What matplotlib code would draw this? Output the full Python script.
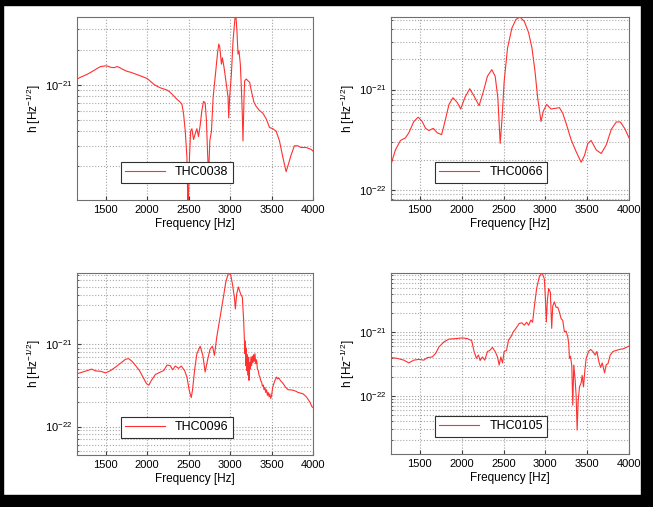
import matplotlib as mpl
mpl.use('Agg')
mpl.rcParams['axes.unicode_minus'] = False

import matplotlib.pyplot as plt
import numpy as np
from matplotlib.ticker import LogLocator, NullFormatter, FixedLocator, LogFormatterSciNotation
from matplotlib.patches import Rectangle

plt.rcParams['font.family'] = ['Liberation Sans', 'DejaVu Sans']
plt.rcParams['mathtext.fontset'] = 'custom'
plt.rcParams['mathtext.rm'] = 'Liberation Sans'
plt.rcParams['mathtext.it'] = 'Liberation Sans'

# strain spectra, h in units of 1e-21
f_0038 = [1155, 1200, 1280, 1340, 1400, 1440, 1500, 1530, 1560, 1600, 1640, 1670, 1700,
          1760, 1800, 1840, 1880, 1920, 1960, 2000, 2040, 2080, 2120, 2160, 2200, 2240,
          2270, 2300, 2330, 2360, 2390, 2420, 2440, 2460, 2480, 2492, 2500, 2512, 2525,
          2540, 2560, 2580, 2600, 2620, 2640, 2660, 2680, 2700, 2715, 2730, 2742, 2756,
          2776, 2796, 2824, 2848, 2864, 2876, 2896, 2908, 2928, 2956, 2976, 2984, 2996,
          3016, 3036, 3056, 3068, 3084, 3096, 3108, 3124, 3136, 3148, 3156, 3168, 3176,
          3196, 3216, 3236, 3256, 3288, 3316, 3356, 3396, 3436, 3476, 3516, 3556, 3596,
          3636, 3676, 3696, 3736, 3776, 3816, 3856, 3916, 3976, 4000]
h_0038 = [1.12, 1.16, 1.23, 1.30, 1.38, 1.43, 1.45, 1.44, 1.41, 1.40, 1.43, 1.40, 1.36,
          1.30, 1.28, 1.25, 1.22, 1.19, 1.16, 1.13, 1.07, 1.01, 0.97, 0.94, 0.92, 0.90,
          0.87, 0.83, 0.79, 0.75, 0.72, 0.68, 0.56, 0.40, 0.24, 0.09, 0.12, 0.25, 0.40,
          0.42, 0.34, 0.38, 0.42, 0.36, 0.45, 0.60, 0.72, 0.70, 0.50, 0.25, 0.17, 0.33,
          0.40, 0.78, 1.23, 1.83, 2.23, 2.10, 1.50, 1.70, 1.40, 1.00, 0.78, 0.52, 0.80,
          1.23, 2.38, 3.50, 4.20, 2.80, 1.83, 1.95, 1.50, 0.95, 0.55, 0.33, 0.75, 1.08,
          1.12, 1.08, 1.05, 0.89, 0.71, 0.65, 0.60, 0.57, 0.51, 0.43, 0.42, 0.40, 0.33,
          0.24, 0.18, 0.20, 0.25, 0.30, 0.30, 0.29, 0.29, 0.28, 0.27]

f_0066 = [1160, 1208, 1268, 1328, 1368, 1428, 1480, 1528, 1568, 1608, 1660, 1708, 1760,
          1800, 1848, 1896, 1948, 1988, 2040, 2096, 2148, 2208, 2260, 2308, 2360, 2400,
          2432, 2460, 2480, 2508, 2548, 2600, 2648, 2696, 2748, 2800, 2840, 2876, 2908,
          2948, 2976, 3016, 3068, 3120, 3168, 3208, 3248, 3308, 3368, 3428, 3468, 3508,
          3548, 3608, 3668, 3728, 3788, 3848, 3896, 3948, 4000]
h_0066 = [0.185, 0.25, 0.31, 0.33, 0.37, 0.48, 0.53, 0.48, 0.41, 0.39, 0.41, 0.37, 0.355,
          0.48, 0.71, 0.83, 0.74, 0.64, 0.84, 1.02, 0.86, 0.69, 0.96, 1.36, 1.58, 1.36,
          0.83, 0.29, 0.48, 1.21, 2.6, 4.1, 5.0, 5.3, 4.8, 3.7, 2.6, 1.53, 0.83,
          0.48, 0.61, 0.71, 0.64, 0.65, 0.66, 0.58, 0.46, 0.316, 0.24, 0.188, 0.22, 0.29,
          0.31, 0.25, 0.23, 0.28, 0.40, 0.475, 0.475, 0.41, 0.33]

f_0096 = [1160, 1220, 1280, 1332, 1380, 1440, 1500, 1560, 1620, 1680, 1740, 1780, 1820,
          1860, 1908, 1960, 1992, 2020, 2052, 2100, 2160, 2200, 2240, 2280, 2308, 2340,
          2380, 2412, 2452, 2480, 2508, 2532, 2548, 2572, 2600, 2640, 2672, 2700, 2728,
          2760, 2788, 2812, 2840, 2880, 2920, 2948, 2980, 3008, 3028, 3052, 3064, 3080,
          3100, 3128, 3148, 3164, 3172, 3180, 3185, 3190, 3196, 3200, 3206, 3212, 3218,
          3224, 3228, 3236, 3244, 3252, 3260, 3268, 3276, 3284, 3292, 3300, 3310, 3320,
          3330, 3340, 3350, 3360, 3370, 3380, 3390, 3400, 3410, 3420, 3430, 3440, 3450,
          3460, 3470, 3480, 3490, 3500, 3514, 3528, 3544, 3560, 3574, 3588, 3610, 3640,
          3670, 3700, 3730, 3760, 3790, 3820, 3850, 3880, 3920, 3960, 3988, 4000]
h_0096 = [0.44, 0.46, 0.48, 0.50, 0.475, 0.47, 0.45, 0.48, 0.53, 0.59, 0.66, 0.67, 0.62,
          0.555, 0.48, 0.383, 0.333, 0.318, 0.365, 0.43, 0.46, 0.48, 0.56, 0.55, 0.49, 0.545,
          0.51, 0.545, 0.48, 0.40, 0.276, 0.225, 0.28, 0.48, 0.77, 0.95, 0.735, 0.46, 0.64,
          0.88, 0.95, 0.735, 1.23, 2.15, 3.76, 5.7, 7.4, 7.0, 5.5, 3.76, 2.7, 4.1,
          5.0, 4.1, 3.76, 1.96, 1.2, 0.77, 1.1, 0.55, 0.9, 0.48, 0.75, 0.6, 0.42,
          0.7, 0.365, 0.6, 0.5, 0.70, 0.55, 0.72, 0.6, 0.75, 0.62, 0.77, 0.58, 0.65,
          0.5, 0.48, 0.42, 0.40, 0.36, 0.35, 0.31, 0.32, 0.28, 0.30, 0.26, 0.28, 0.24,
          0.26, 0.23, 0.25, 0.22, 0.235, 0.30, 0.333, 0.37, 0.40, 0.38, 0.39, 0.36, 0.333,
          0.30, 0.28, 0.28, 0.276, 0.27, 0.26, 0.255, 0.25, 0.23, 0.20, 0.174, 0.17]

f_0105 = [1160, 1228, 1308, 1368, 1428, 1488, 1548, 1588, 1648, 1688, 1728, 1788, 1848,
          1928, 2008, 2068, 2120, 2148, 2176, 2200, 2220, 2248, 2276, 2308, 2336, 2368,
          2400, 2428, 2448, 2468, 2488, 2508, 2536, 2560, 2588, 2616, 2648, 2688, 2720,
          2748, 2776, 2800, 2828, 2848, 2868, 2896, 2928, 2960, 2988, 3000, 3012, 3024,
          3040, 3060, 3076, 3088, 3108, 3128, 3148, 3168, 3188, 3208, 3228, 3248, 3268,
          3280, 3288, 3300, 3316, 3328, 3340, 3356, 3368, 3380, 3392, 3408, 3428, 3440,
          3456, 3472, 3488, 3516, 3540, 3568, 3596, 3616, 3640, 3660, 3680, 3708, 3728,
          3748, 3776, 3808, 3848, 3888, 3928, 3968, 4000]
h_0105 = [0.40, 0.39, 0.365, 0.33, 0.365, 0.375, 0.365, 0.40, 0.41, 0.466, 0.59, 0.71, 0.785,
          0.80, 0.82, 0.80, 0.74, 0.50, 0.39, 0.44, 0.36, 0.41, 0.365, 0.50, 0.52, 0.58,
          0.50, 0.41, 0.305, 0.41, 0.33, 0.50, 0.52, 0.76, 0.85, 1.02, 1.16, 1.39, 1.42,
          1.30, 1.45, 1.30, 1.57, 1.45, 2.54, 4.96, 7.6, 8.8, 7.0, 3.6, 1.47, 3.2,
          4.96, 4.3, 1.16, 2.6, 3.05, 2.5, 2.5, 2.1, 1.66, 1.55, 1.02, 1.05, 0.85,
          0.65, 0.39, 0.42, 0.30, 0.071, 0.305, 0.18, 0.10, 0.0287, 0.08, 0.138, 0.16, 0.21,
          0.138, 0.25, 0.39, 0.50, 0.54, 0.50, 0.44, 0.50, 0.345, 0.28, 0.33, 0.23, 0.31,
          0.32, 0.44, 0.50, 0.52, 0.54, 0.55, 0.58, 0.61]

names = ['THC0038', 'THC0066', 'THC0096', 'THC0105']
ylims = [(1.03e-22, 3.8e-21), (7.9e-23, 5.3e-21), (4.5e-23, 7.4e-21), (1.2e-23, 8.7e-21)]
xticks = [1500, 2000, 2500, 3000, 3500, 4000]

W, H = 653, 507
fig = plt.figure(figsize=(W / 100, H / 100), dpi=100)
fig.patch.set_facecolor('white')

# pixel boxes of the four axes: left, top, right, bottom
boxes = [(77, 17, 313, 200), (391, 17, 629, 200), (77, 273, 313, 455), (391, 273, 629, 454)]
data = [(f_0038, h_0038), (f_0066, h_0066), (f_0096, h_0096), (f_0105, h_0105)]

for (l, t, r, b), (f, h), name, yl in zip(boxes, data, names, ylims):
    ax = fig.add_axes([l / W, 1 - b / H, (r - l) / W, (b - t) / H])
    ax.plot(f, np.array(h) * 1e-21, color='#ff3030', lw=0.8, label=name)
    ax.set_yscale('log')
    ax.set_xlim(1155, 4000)
    ax.set_ylim(*yl)
    ax.xaxis.set_major_locator(FixedLocator(xticks))
    decades = [10.0 ** e for e in range(-24, -19) if yl[0] <= 10.0 ** e <= yl[1]]
    ax.yaxis.set_major_locator(FixedLocator(decades))
    ax.yaxis.set_major_formatter(LogFormatterSciNotation())
    ax.yaxis.set_minor_locator(LogLocator(base=10, subs=np.arange(2, 10)))
    ax.yaxis.set_minor_formatter(NullFormatter())
    ax.grid(True, which='major', ls=':', color='#a0a0a0', lw=0.8)
    ax.grid(True, which='minor', axis='y', ls=':', color='#a8a8a8', lw=0.8)
    ax.tick_params(direction='in', labelsize=8, length=3, color='#404040')
    ax.tick_params(which='minor', direction='in', length=1.5, color='#404040')
    for s in ax.spines.values():
        s.set_color('#707070')
        s.set_linewidth(0.8)
    ax.set_xlabel('Frequency [Hz]', fontsize=8.5, labelpad=2)
    ax.set_ylabel('h [Hz$^{-1/2}$]', fontsize=8.5, labelpad=1)
    leg = ax.legend(loc='lower left', bbox_to_anchor=(0.185, 0.095), borderaxespad=0,
                    fancybox=False, edgecolor='#303030', fontsize=9, handlelength=3.2,
                    borderpad=0.35, framealpha=1)
    leg.get_frame().set_linewidth(0.8)

# black frame strips of the screenshot
fig.patches.append(Rectangle((0, 1 - 5 / H), 1, 5 / H, transform=fig.transFigure, color='black'))
fig.patches.append(Rectangle((0, 0), 3 / W, 1, transform=fig.transFigure, color='black'))
fig.patches.append(Rectangle((641 / W, 0), 1, 1, transform=fig.transFigure, color='black'))
fig.patches.append(Rectangle((0, 0), 1, 12 / H, transform=fig.transFigure, color='black'))

fig.savefig('out.png', dpi=100)
